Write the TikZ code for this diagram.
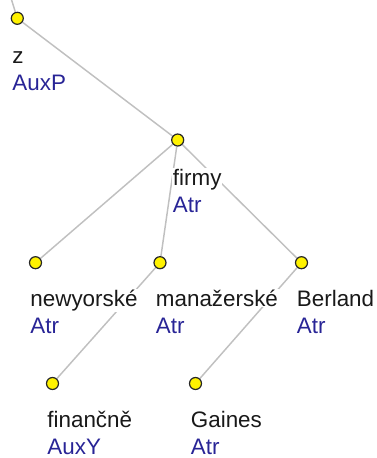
\documentclass[tikz,border=0pt]{standalone}
\usepackage{fontspec}
\setmainfont{Liberation Sans}
\pgfdeclarelayer{bg}
\pgfsetlayers{bg,main}
\definecolor{rolecol}{RGB}{40,36,150}
\definecolor{wordcol}{RGB}{25,25,25}
\definecolor{edgecol}{RGB}{192,192,192}
\tikzset{
  tnode/.style={circle,draw=black!85,fill=yellow,line width=0.9pt,minimum size=9pt,inner sep=0pt},
  edge/.style={draw=edgecol,line width=1.1pt},
  word/.style={anchor=base west,inner sep=0.5pt,fill=white,text=wordcol,font=\fontsize{16.8}{19}\selectfont},
  role/.style={anchor=base west,inner sep=0.5pt,text=rolecol,font=\fontsize{16.8}{19}\selectfont}
}
\begin{document}
\begin{tikzpicture}[x=0.75pt,y=-0.75pt]
\useasboundingbox (0,0) rectangle (376,458);
\clip (0,0) rectangle (376,458);
\node[tnode] (z) at (17.3,18.3) {};
\node[tnode] (firmy) at (177.7,140) {};
\node[tnode] (newy) at (35.5,262.7) {};
\node[tnode] (man) at (160,262.7) {};
\node[tnode] (ber) at (301.5,262.7) {};
\node[tnode] (fin) at (52.5,383.5) {};
\node[tnode] (gai) at (195.5,383.5) {};
\coordinate (top) at (8.5,-10);
% labels
\node[word] (zw) at (11.5,63) {z};
\node[role] (zr) at (11.5,90) {AuxP};
\node[word] (firmyw) at (172,185) {firmy};
\node[role] (firmyr) at (172,212) {Atr};
\node[word] (newyw) at (29.5,306.5) {newyorské};
\node[role] (newyr) at (29.5,333.5) {Atr};
\node[word] (manw) at (155,306.5) {manažerské};
\node[role] (manr) at (155,333.5) {Atr};
\node[word] (berw) at (296,306.5) {Berland};
\node[role] (berr) at (296,333.5) {Atr};
\node[word] (finw) at (46.5,427) {finančně};
\node[role] (finr) at (46.5,454) {AuxY};
\node[word] (gaiw) at (190,427) {Gaines};
\node[role] (gair) at (190,454) {Atr};
\begin{pgfonlayer}{bg}
\draw[edge] (z) -- (top);
\draw[edge] (z) -- (firmy);
\draw[edge] (firmy) -- (newy);
\draw[edge] (firmy) -- (man);
\draw[edge] (firmy) -- (ber);
\draw[edge] (man) -- (fin);
\draw[edge] (ber) -- (gai);
\end{pgfonlayer}
\end{tikzpicture}
\end{document}
